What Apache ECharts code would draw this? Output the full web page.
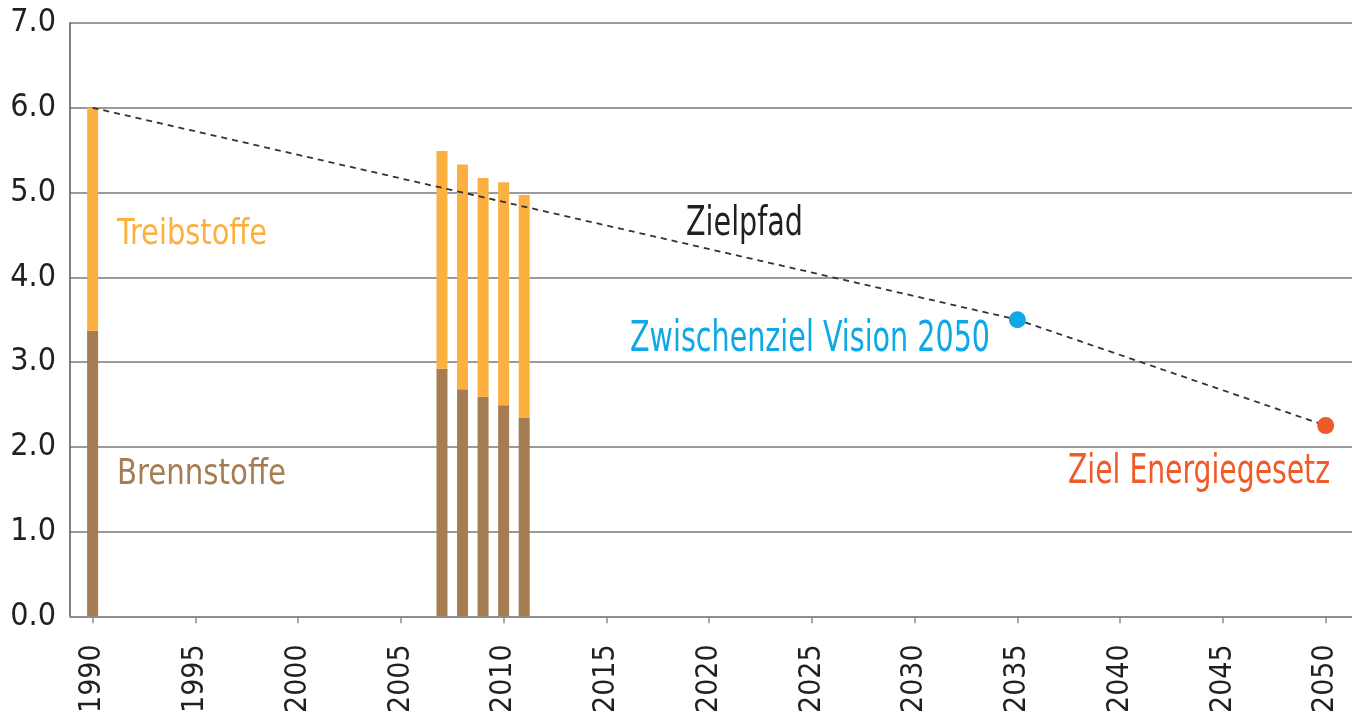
<!DOCTYPE html>
<html>
<head>
<meta charset="utf-8">
<script src="https://cdn.jsdelivr.net/npm/echarts@6/dist/echarts.min.js"></script>
<style>
  html, body { margin: 0; padding: 0; background: #fff; }
  #main { width: 1352px; height: 716px; }
</style>
</head>
<body>
<div id="main"></div>
<script>
// Jahre mit Balken
var years = [1990, 2007, 2008, 2009, 2010, 2011];
// Brennstoffe (unten) und Treibstoffe (oben)
var brennstoffe = [3.37, 2.92, 2.68, 2.59, 2.49, 2.34];
var treibstoffe = [2.63, 2.57, 2.65, 2.58, 2.63, 2.63];
// Zielpfad
var zielpfad = [[1990, 6.0], [2035, 3.5], [2050, 2.25]];
var zwischenziel = [2035, 3.5];
var zielEnergie = [2050, 2.25];
// Achsen-Beschriftung x
var xTicks = [1990, 1995, 2000, 2005, 2010, 2015, 2020, 2025, 2030, 2035, 2040, 2045, 2050];

var FONT = '"DejaVu Sans Condensed", "DejaVu Sans", sans-serif';
var chart = echarts.init(document.getElementById('main'));

// [wert, jahr] damit die y-Dimension gestapelt wird
function pairs(xs, ys) {
  return xs.map(function (x, i) { return [ys[i], x]; });
}

// schmale Schrift nachbilden: Text auf Zielbreite stauchen
var ctx = document.createElement('canvas').getContext('2d');
function label(text, color, size, left, midY, width) {
  var font = size + 'px ' + FONT;
  ctx.font = font;
  var w = ctx.measureText(text).width;
  return {
    type: 'text',
    x: left,
    y: midY,
    scaleX: width / w,
    style: { text: text, fill: color, font: font, verticalAlign: 'middle', align: 'left' },
    z: 10
  };
}

var option = {
  animation: false,
  grid: { left: 70, right: 0, top: 23, bottom: 98 },
  xAxis: {
    type: 'value',
    min: 1988.9,
    max: 2051.28,
    axisLine: { show: true, lineStyle: { color: '#8c8c8c', width: 1.5 } },
    axisTick: { show: true, customValues: xTicks, length: 7, lineStyle: { color: '#8c8c8c', width: 1.5 } },
    axisLabel: {
      customValues: xTicks,
      rotate: 90,
      margin: 28,
      color: '#231f20',
      fontFamily: FONT,
      fontSize: 30,
      formatter: function (v) { return String(v); }
    },
    splitLine: { show: false }
  },
  yAxis: {
    type: 'value',
    min: 0,
    max: 7,
    interval: 1,
    axisLine: { show: true, lineStyle: { color: '#555', width: 1.5 } },
    axisTick: { show: false },
    axisLabel: {
      margin: 14,
      color: '#231f20',
      fontFamily: FONT,
      fontSize: 32,
      formatter: function (v) { return v.toFixed(1); }
    },
    splitLine: { show: true, lineStyle: { color: '#9a9a9a', width: 1.8 } }
  },
  series: [
    {
      name: 'Brennstoffe',
      type: 'bar',
      stack: 'total',
      barWidth: 11,
      encode: { x: 1, y: 0 },
      itemStyle: { color: '#a67c52' },
      data: pairs(years, brennstoffe)
    },
    {
      name: 'Treibstoffe',
      type: 'bar',
      stack: 'total',
      barWidth: 11,
      encode: { x: 1, y: 0 },
      itemStyle: { color: '#fbb040' },
      data: pairs(years, treibstoffe)
    },
    {
      name: 'Zielpfad',
      type: 'line',
      showSymbol: false,
      symbol: 'none',
      lineStyle: { color: '#333', width: 1.8, type: [6, 5] },
      data: zielpfad,
      z: 3
    },
    {
      name: 'Zwischenziel',
      type: 'scatter',
      symbolSize: 17,
      itemStyle: { color: '#0fa8e6', opacity: 1 },
      data: [zwischenziel],
      z: 4
    },
    {
      name: 'Ziel',
      type: 'scatter',
      symbolSize: 17,
      itemStyle: { color: '#f05a28', opacity: 1 },
      data: [zielEnergie],
      z: 4
    }
  ],
  graphic: [
    label('Treibstoffe', '#fbb040', 35, 117, 235, 150),
    label('Brennstoffe', '#a67c52', 35, 117, 475, 169),
    label('Zielpfad', '#231f20', 40, 686, 225, 117),
    label('Zwischenziel Vision 2050', '#0fa8e6', 42, 630, 340, 360),
    label('Ziel Energiegesetz', '#f05a28', 40, 1068, 473, 262)
  ]
};

chart.setOption(option);
</script>
</body>
</html>
